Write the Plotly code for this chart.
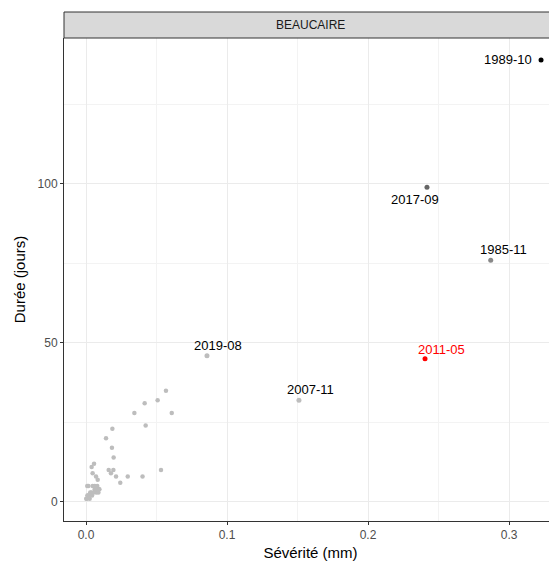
import plotly.graph_objects as go

# --- data ---
small_x = [0.0567, 0.0416, 0.0508, 0.0343, 0.0608, 0.0423, 0.0187, 0.0142, 0.0184, 0.0196,
           0.0057, 0.0040, 0.0161, 0.0194, 0.0532, 0.0047, 0.0177, 0.0071, 0.0213, 0.0296,
           0.0401, 0.0083, 0.0243, 0.0017, 0.0062, 0.0095, 0.0088, 0.0009, 0.0047, 0.0080,
           0.0090, 0.0062, 0.0038, 0.0021, 0.0014, 0.0002, 0.0026, 0.0043, 0.0073, 0.0005,
           0.0030, 0.0055, 0.0068, 0.0010]
small_y = [35, 31, 32, 28, 28, 24, 23, 20, 17, 14,
           12, 11, 10, 10, 10, 9, 9, 8, 8, 8,
           8, 7, 6, 5, 5, 4, 3, 5, 5, 5,
           4, 4, 3, 2, 2, 1, 1, 2, 3, 1,
           3, 3, 4, 2]

event_labels = ["1989-10", "2017-09", "1985-11", "2019-08", "2007-11", "2011-05"]
event_x = [0.3227, 0.2418, 0.2870, 0.0858, 0.1510, 0.2404]
event_y = [139, 99, 76, 46, 32, 45]

# --- styles ---
event_colors = ["#000000", "#666666", "#888888", "#bdbdbd", "#bdbdbd", "#ff0000"]
text_colors = ["#000000", "#000000", "#000000", "#000000", "#000000", "#ff0000"]
label_shift = {  # (xshift, yshift) in pixels
    "1989-10": (-33, 0), "2017-09": (-12, -12), "1985-11": (13, 11),
    "2019-08": (11, 10), "2007-11": (12, 11), "2011-05": (16, 9),
}

FONT = "Liberation Sans, Arial"

fig = go.Figure()
fig.add_trace(go.Scatter(x=small_x, y=small_y, mode="markers",
                         marker=dict(color="#bdbdbd", size=4.5), hoverinfo="skip"))
fig.add_trace(go.Scatter(x=event_x, y=event_y, mode="markers",
                         marker=dict(color=event_colors, size=5), hoverinfo="skip"))

for lab, x, y, tc in zip(event_labels, event_x, event_y, text_colors):
    dx, dy = label_shift[lab]
    fig.add_annotation(x=x, y=y, text=lab, showarrow=False, xshift=dx, yshift=dy,
                       xanchor="center", yanchor="middle",
                       font=dict(family=FONT, size=13, color=tc))

# page body has an 8px margin; compensate so the figure fills the 557x564 window
W, H = 549, 556
mt, mb, ml, mr = 30, 43, 56, 0
ph = H - mt - mb
strip_h = 26 / ph

fig.add_shape(type="rect", xref="paper", yref="paper", x0=0, x1=1.02, y0=1, y1=1 + strip_h,
              fillcolor="#d9d9d9", line=dict(color="#333333", width=1))
fig.add_annotation(xref="paper", yref="paper", x=0.5, y=1 + strip_h / 2, text="BEAUCAIRE",
                   showarrow=False, xanchor="center", yanchor="middle",
                   font=dict(family=FONT, size=12, color="#1a1a1a"))

axis_common = dict(
    showgrid=True, gridcolor="#ebebeb", gridwidth=1,
    zeroline=False, showline=True, linecolor="#333333", linewidth=1, mirror=False,
    ticks="outside", ticklen=3, tickcolor="#333333",
    tickfont=dict(family=FONT, size=12, color="#4d4d4d"),
)
fig.update_xaxes(**axis_common, range=[-0.0156, 0.334], tickvals=[0, 0.1, 0.2, 0.3],
                 ticktext=["0.0", "0.1", "0.2", "0.3"],
                 minor=dict(showgrid=True, gridcolor="#f3f3f3", gridwidth=0.6,
                            tickvals=[0.05, 0.15, 0.25], ticks=""),
                 title=dict(text="Sévérité (mm)", font=dict(family=FONT, size=15, color="#000000"), standoff=6))
fig.update_yaxes(**axis_common, range=[-6.0, 145.9], tickvals=[0, 50, 100],
                 minor=dict(showgrid=True, gridcolor="#f3f3f3", gridwidth=0.6,
                            tickvals=[25, 75, 125], ticks=""),
                 title=dict(text="Durée (jours)", font=dict(family=FONT, size=15, color="#000000"), standoff=8))

fig.update_layout(width=W, height=H, margin=dict(l=ml, r=mr, t=mt, b=mb),
                  plot_bgcolor="white", paper_bgcolor="white", showlegend=False)

fig.write_html("out.html")
